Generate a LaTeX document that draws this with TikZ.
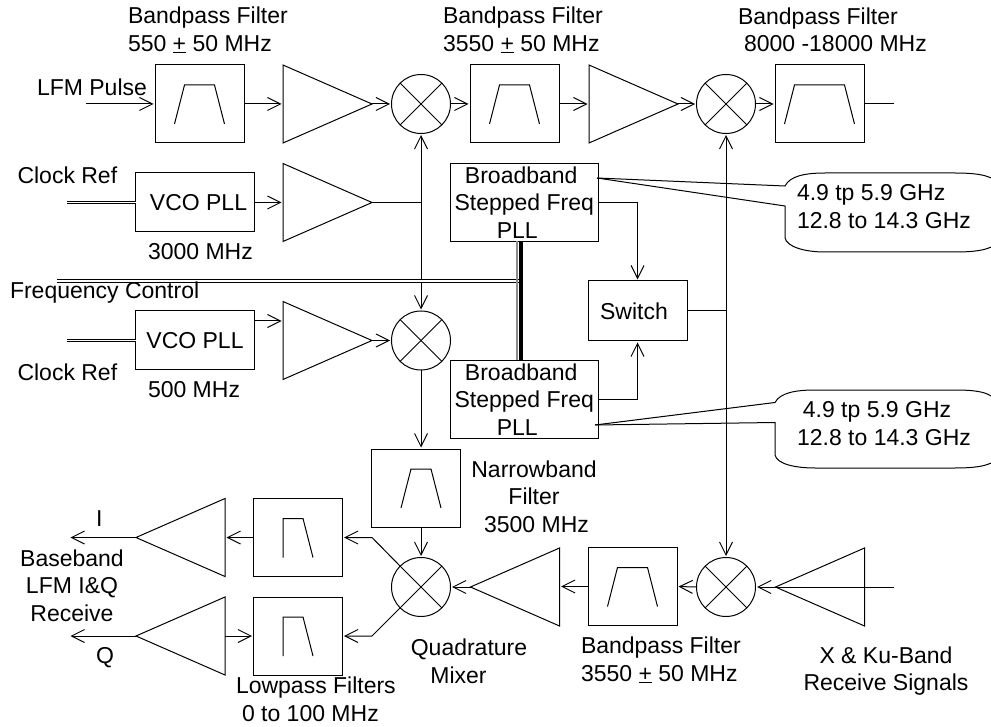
\documentclass[tikz,border=0pt]{standalone}
\usepackage{fontspec}
\setmainfont{Liberation Sans}
\usetikzlibrary{shapes.geometric,arrows.meta,positioning}
\tikzset{
  box/.style={draw,line width=1pt,inner sep=0pt,outer sep=0pt,minimum width=89pt,minimum height=78pt,align=center},
  passband/.style n args={4}{box,path picture={
    \draw[line width=1pt] ([shift={(#1,20)}]path picture bounding box.center) -- ([shift={(#2,-19)}]path picture bounding box.center)
      -- ([shift={(#3,-19)}]path picture bounding box.center) -- ([shift={(#4,20)}]path picture bounding box.center);}},
  amp/.style={draw,line width=1pt,isosceles triangle,isosceles triangle stretches,inner sep=0pt,outer sep=0pt,
    minimum width=78pt,minimum height=89pt,anchor=apex},
  ampl/.style={amp,shape border rotate=180},
  mixer/.style={draw,line width=1pt,circle,inner sep=0pt,outer sep=0pt,minimum size=59pt,path picture={
    \draw[line width=1pt] (path picture bounding box.north west) -- (path picture bounding box.south east);
    \draw[line width=1pt] (path picture bounding box.north east) -- (path picture bounding box.south west);}},
  sig/.style={line width=1pt,arrows={-Straight Barb[length=13pt,width=13pt]},shorten >=1.5pt},
  sigb/.style={line width=1pt,arrows={Straight Barb[length=13pt,width=13pt]-Straight Barb[length=13pt,width=13pt]},shorten >=1.5pt,shorten <=1.5pt},
  wire/.style={line width=1pt},
  dbl/.style={line width=1.1pt,double,double distance=1.5pt},
  lbl/.style={inner sep=0pt,outer sep=0pt,align=left,anchor=west},
  ctr/.style={inner sep=0pt,outer sep=0pt,align=center}
}
\begin{document}
\begin{tikzpicture}[x=1pt,y=-1pt,font=\fontsize{23}{27.5}\selectfont]
  \useasboundingbox (0,0) rectangle (991,727);
  % Filters: {name/x/y}
  \foreach \n/\x/\y in {bpa/199.5/104, bpb/514.5/104, bpc/632.5/586.5}
    \node[passband={-25}{-15}{15}{25}] (\n) at (\x,\y) {};
  \node[passband={-35}{-25}{25}{35}] (bpw) at (819.5,104) {};
  \node[passband={-15}{-5}{15}{25}] (nbf) at (416,488) {};
  \foreach \n/\y in {lpi/537.5, lpq/636}
    \node[passband={-15}{-15}{5}{15}] (\n) at (298,\y) {};
  % Amplifiers: {name/apex x/apex y}
  \foreach \n/\x/\y in {ampa/372/104, ampb/678/104, ampc/372/202.5, ampd/372/340.5}
    \node[amp] (\n) at (\x,\y) {};
  \foreach \n/\x/\y in {ampe/470.5/587, ampf/775.5/587, ampi/136/537.5, ampq/136/636}
    \node[ampl] (\n) at (\x,\y) {};
  % Mixers: {name/x/y}
  \foreach \n/\x/\y in {mixa/421/104, mixb/726/104, mixc/421/340.5, mixd/421/587, mixe/726/587}
    \node[mixer] (\n) at (\x,\y) {};
  % Blocks with text
  \node[box,minimum width=118.5pt,minimum height=59pt] (vcoa) at (195,202.5) {\hspace*{7pt}VCO PLL};
  \node[box,minimum width=118.5pt,minimum height=59pt] (vcob) at (195,340.5) {VCO PLL};
  \node[box,minimum width=147.5pt] (bba) at (524.25,202.5) {Broadband\hspace*{6pt}\\Stepped Freq\hspace*{5pt}\\PLL\hspace*{14pt}};
  \node[box,minimum width=147.5pt] (bbb) at (524.25,399.5) {Broadband\hspace*{6pt}\\Stepped Freq\hspace*{5pt}\\PLL\hspace*{14pt}};
  \node[box,minimum width=99pt,minimum height=60pt] (switch) at (637.5,311) {Switch\hspace*{7pt}};
  % Free ends
  \coordinate (lfm) at (86,104);
  \coordinate (clka) at (67,202.5);
  \coordinate (clkb) at (67,340.5);
  \coordinate (fctl) at (57,281);
  \coordinate (fend) at (520,281);
  \coordinate (outw) at (894,104);
  \coordinate (rxin) at (894,587);
  \coordinate (outi) at (69,537.5);
  \coordinate (outq) at (69,636);
  \coordinate (tapi) at (372,537.5);
  \coordinate (tapq) at (372,636);
  % Top row
  \draw[sig] (lfm) -- (bpa.west);
  \draw[sig] (bpa.east) -- (bpa.east -| ampa.west);
  \draw[sig] (ampa.apex) -- (mixa.west);
  \draw[sig] (mixa.east) -- (bpb.west);
  \draw[sig] (bpb.east) -- (bpb.east -| ampb.west);
  \draw[sig] (ampb.apex) -- (mixb.west);
  \draw[sig] (mixb.east) -- (bpw.west);
  \draw[wire] (bpw.east) -- (outw);
  % Reference chains
  \draw[dbl] (clka) -- (vcoa.west);
  \draw[dbl] (clkb) -- (vcob.west);
  \draw[sig] (vcoa.east) -- (vcoa.east -| ampc.west);
  \draw[wire] (ampc.apex) -- (ampc.apex -| mixa);
  \draw[sig] ([yshift=19.5pt]vcob.east) -- ([yshift=19.5pt]vcob.east -| ampd.west);
  \draw[sig] (ampd.apex) -- (mixc.west);
  \draw[sigb] (mixa.south) -- (mixc.north);
  % Frequency control bus
  \draw[dbl] (fctl) -- (fend);
  \draw[line width=2.3pt,black!45] ([xshift=-7pt]bba.south) -- ([xshift=-7pt]bbb.north);
  \draw[line width=4pt] ([xshift=-3pt]bba.south) -- ([xshift=-3pt]bbb.north);
  % Switch
  \draw[sig] (bba.east) -| (switch.north);
  \draw[sig] (bbb.east) -| (switch.south);
  \draw[wire] (switch.east) -- (switch.east -| mixb);
  \draw[sigb] (mixb.south) -- (mixe.north);
  % Receive chain
  \draw[wire] (rxin) -- (ampf.west);
  \draw[sig] (ampf.apex) -- (mixe.east);
  \draw[sig] (mixe.west) -- (bpc.east);
  \draw[sig] (bpc.west) -- (bpc.west -| ampe.east);
  \draw[sig] (ampe.apex) -- (mixd.east);
  \draw[sig] (mixc.south) -- (mixc.south |- nbf.north);
  \draw[sig] (mixc.south |- nbf.south) -- (mixd.north);
  \draw[sig] (mixd.north west) -- (tapi) -- (lpi.east);
  \draw[sig] (mixd.south west) -- (tapq) -- (lpq.east);
  \draw[sig] (lpi.west) -- (lpi.west -| ampi.east);
  \draw[sig] (ampq.east) -- (lpq.west);
  \draw[sig] (ampi.apex) -- (outi);
  \draw[sig] (ampq.apex) -- (outq);
  % Callouts
  \coordinate (tapa) at (597,178);
  \coordinate (tapb) at (595,425);
  \draw[wire] (tapa) -- (785,186) .. controls (790,176) and (805,173) .. (825,173) -- (955,173) .. controls (975,173) and (985,175) .. (991,178);
  \draw[wire] (tapa) -- (785,206) -- (785,238) .. controls (787,247) and (805,252) .. (825,252) -- (955,252) .. controls (975,252) and (985,250) .. (991,247);
  \draw[wire] (tapb) -- (775,402.5) .. controls (780,393) and (795,390) .. (815,390) -- (955,390) .. controls (975,390) and (985,392) .. (991,396);
  \draw[wire] (tapb) -- (775,422.5) -- (775,455) .. controls (777,464) and (795,468) .. (815,468) -- (955,468) .. controls (975,468) and (985,466) .. (991,463);
  % Labels
  \node[lbl] (lbpa) at (128,30) {Bandpass Filter\\550 \underline{+} 50 MHz};
  \node[lbl] (lbpb) at (443,30) {Bandpass Filter\\3550 \underline{+} 50 MHz};
  \node[lbl] (lbpw) at (738,30) {Bandpass Filter\\\hspace*{6pt}8000 -18000 MHz};
  \node[lbl] (llfm) at (37,87) {LFM Pulse};
  \node[lbl] (lclka) at (17.5,175) {Clock Ref};
  \node[lbl] (lclkb) at (17.5,372) {Clock Ref};
  \node[lbl] (lvcoa) at (148,252) {3000 MHz};
  \node[lbl] (lvcob) at (148,390) {500 MHz};
  \node[lbl] (lfctl) at (10,293) {Frequency Control};
  \node[lbl] (lcala) at (797,206.5) {4.9 tp 5.9 GHz\\12.8 to 14.3 GHz};
  \node[ctr] (lcalb) at (884,423.5) {4.9 tp 5.9 GHz\hspace*{14pt}\\12.8 to 14.3 GHz};
  \node[ctr] (lnbf) at (534,496.5) {Narrowband\\Filter\hspace*{22pt}\\\hspace*{5pt}3500 MHz};
  \node[lbl] (li) at (96,519) {I};
  \node[lbl] (lq) at (96,657.5) {Q};
  \node[ctr] (lbase) at (72,585.5) {Baseband\\LFM I\&Q\\Receive};
  \node[lbl] (llpf) at (236,699.5) {Lowpass Filters\\\hspace*{6pt}0 to 100 MHz};
  \node[ctr] (lqm) at (469,661.5) {Quadrature\\Mixer\hspace*{21pt}};
  \node[lbl] (lbpc) at (581,660) {Bandpass Filter\\3550 \underline{+} 50 MHz};
  \node[ctr] (lrx) at (886,671) {X \& Ku-Band\\Receive Signals};
\end{tikzpicture}
\end{document}
